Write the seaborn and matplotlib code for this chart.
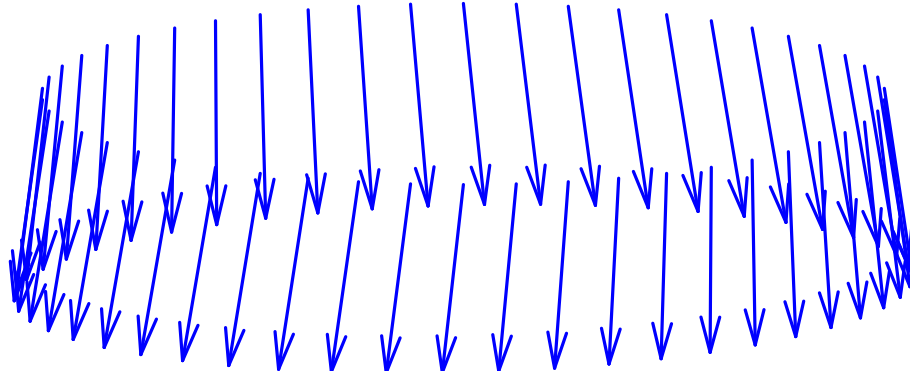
import numpy as np
import matplotlib
matplotlib.use("Agg")
import matplotlib.pyplot as plt
import seaborn as sns

sns.set_theme(style="white")

# Stations around the ring, in degrees counter-clockwise from +x (50 of them)
ring_angles_deg = np.arange(90.0, 450.0, 7.2)
ring_radius = 1.0
ring_height = 0.0

# Vector field on the ring: horizontal part is a linear map of the station
# position, plus a uniform downward component
field_xx, field_xy = 0.064, 0.050
field_yx, field_yy = 0.078, -0.072
field_down = -0.472

# Arrowhead shape, as fractions of the arrow length
head_back = 0.19
head_half_width = 0.046

theta = np.deg2rad(ring_angles_deg)
cx, sy = np.cos(theta), np.sin(theta)
X = ring_radius * cx
Y = ring_radius * sy
Z = np.full_like(X, ring_height)
U = field_xx * cx + field_xy * sy
V = field_yx * cx + field_yy * sy
W = np.full_like(X, field_down)

# Arrowhead barbs: step back along the shaft and out to either side, the
# side direction being the part of +x that is perpendicular to the shaft
vec = np.column_stack([U, V, W])
length = np.linalg.norm(vec, axis=1)
d = vec / length[:, None]
side_dir = np.array([1.0, 0.0, 0.0])[None, :] - d[:, :1] * d
side_dir /= np.linalg.norm(side_dir, axis=1)[:, None]
back = -head_back * length[:, None] * d
spread = head_half_width * length[:, None] * side_dir
barbs = np.vstack([back + spread, back - spread])
tips = np.column_stack([X + U, Y + V, Z + W])
tips2 = np.vstack([tips, tips])

W_PX, H_PX = 918, 371
fig = plt.figure(figsize=(W_PX / 100, H_PX / 100), dpi=100)
side = W_PX
ax = fig.add_axes([-8 / W_PX, -290 / H_PX, side / W_PX, side / H_PX],
                  projection="3d")
ax.set_proj_type("ortho")
ax.view_init(elev=12.4, azim=-90)

style = dict(length=1.0, normalize=False, arrow_length_ratio=0.0,
             color="#0000ff", linewidth=2.3, capstyle="round")
ax.quiver(X, Y, Z, U, V, W, **style)
ax.quiver(tips2[:, 0], tips2[:, 1], tips2[:, 2],
          barbs[:, 0], barbs[:, 1], barbs[:, 2], **style)

ax.set_xlim(-1, 1)
ax.set_ylim(-1, 1)
ax.set_zlim(-0.732, 0.268)
ax.set_box_aspect((2, 2, 1), zoom=1.338)
ax.set_axis_off()

fig.savefig("out.png", dpi=100, facecolor="white")
